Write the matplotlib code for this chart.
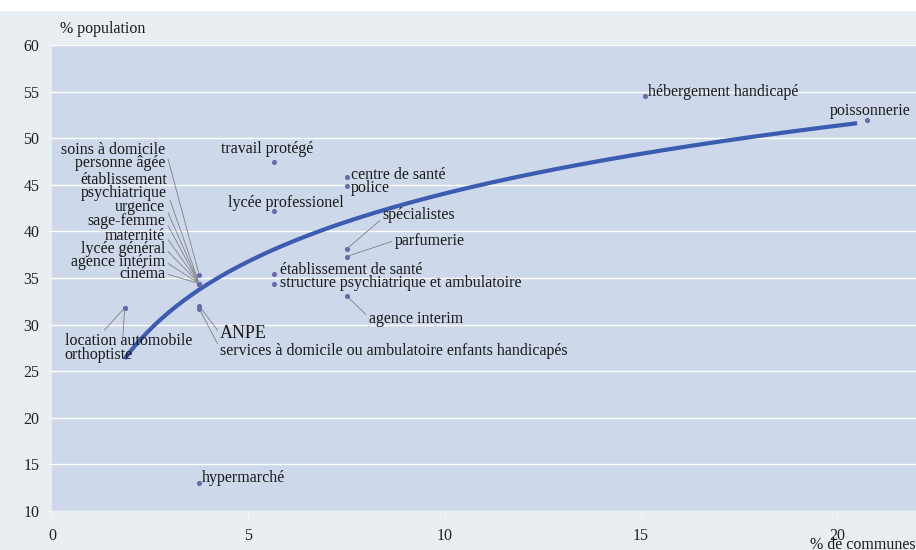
import matplotlib.pyplot as plt
import matplotlib.patches as mpatches
import numpy as np

# values: % of communes (x) vs % of population (y)
labels = [
    "hébergement handicapé", "poissonnerie", "travail protégé",
    "centre de santé", "police", "lycée professionel", "spécialistes",
    "parfumerie", "établissement de santé",
    "structure psychiatrique et ambulatoire", "agence interim",
    "soins à domicile\npersonne âgée", "établissement\npsychiatrique",
    "urgence", "sage-femme", "maternité", "lycée général",
    "agence intérim", "cinéma", "ANPE",
    "services à domicile ou ambulatoire enfants handicapés",
    "location automobile", "orthoptiste", "hypermarché",
]
pct_communes = [15.1, 20.75, 5.65, 7.5, 7.5, 5.65, 7.5, 7.5, 5.65, 5.65,
                7.5, 3.75, 3.75, 3.75, 3.75, 3.75, 3.75, 3.75, 3.75, 3.75,
                3.75, 1.85, 1.85, 3.75]
pct_population = [54.5, 52.0, 47.4, 45.8, 44.9, 42.2, 38.1, 37.3, 35.4,
                  34.4, 33.1, 35.3, 34.4, 34.4, 34.4, 34.4, 34.4, 34.4,
                  34.4, 32.0, 31.7, 31.8, 31.8, 13.0]
x_ticks = [0, 5, 10, 15, 20]
y_ticks = [10, 15, 20, 25, 30, 35, 40, 45, 50, 55, 60]

# label placement: offset from the point in pixels, alignment, leader line
# (None = no leader, otherwise relpos on the text box)
label_style = {
    "hébergement handicapé": ((3, 4), "left", None),
    "poissonnerie": ((3, 9), "center", None),
    "travail protégé": ((-7, 13), "center", None),
    "centre de santé": ((4, 2), "left", None),
    "police": ((4, -2), "left", None),
    "lycée professionel": ((12, 8), "center", None),
    "spécialistes": ((36, 34), "left", (0, 0.3)),
    "parfumerie": ((48, 16), "left", (0, 0.5)),
    "établissement de santé": ((6, 4), "left", None),
    "structure psychiatrique et ambulatoire": ((6, 1), "left", None),
    "agence interim": ((22, -23), "left", (0, 0.6)),
    "soins à domicile\npersonne âgée": ((-34, 119), "right", (1, 0.75)),
    "établissement\npsychiatrique": ((-32, 97), "right", (1, 0.3)),
    "urgence": ((-34, 77), "right", (1, 0.5)),
    "sage-femme": ((-34, 63), "right", (1, 0.5)),
    "maternité": ((-34, 48), "right", (1, 0.5)),
    "lycée général": ((-34, 35), "right", (1, 0.5)),
    "agence intérim": ((-34, 22), "right", (1, 0.5)),
    "cinéma": ((-34, 10), "right", (1, 0.5)),
    "ANPE": ((21, -28), "left", (0, 0.5)),
    "services à domicile ou ambulatoire enfants handicapés":
        ((21, -42), "left", (0, 0.6)),
    "location automobile": ((-60, -33), "left", (0.27, 0.8)),
    "orthoptiste": ((-60, -47), "left", (0.84, 0.6)),
    "hypermarché": ((3, 5), "left", None),
}

serif = ["Liberation Serif", "DejaVu Serif"]
plt.rcParams["font.family"] = serif

fig = plt.figure(figsize=(9.16, 5.5), dpi=100, facecolor="#e9eef2")
# white strip along the top edge
fig.patches.append(mpatches.Rectangle((0, 1 - 10 / 550), 1, 10 / 550,
                                      transform=fig.transFigure,
                                      color="white", zorder=0))
ax = fig.add_axes([52 / 916, 1 - 511 / 550, 1 - 52 / 916, (511 - 45) / 550])
ax.set_facecolor("#cdd8ea")
ax.set_xlim(0, 22)
ax.set_ylim(10, 60)
ax.set_xticks(x_ticks)
ax.set_yticks(y_ticks)
ax.grid(axis="y", color="white", lw=1)
ax.set_axisbelow(True)
for s in ax.spines.values():
    s.set_visible(False)
ax.tick_params(colors="#f4f6f8", length=5, width=0.8, labelsize=11.5,
               labelcolor="#222222")
ax.tick_params(axis="x", pad=7)
ax.tick_params(axis="y", pad=4)

x = np.array(pct_communes)
y = np.array(pct_population)
ax.scatter(x, y, s=7, color="#6a6aa8", zorder=3)

# logarithmic trend line fitted to the points
b, a = np.polyfit(np.log(x), y, 1)
xs = np.linspace(x.min(), 20.5, 200)
ax.plot(xs, a + b * np.log(xs), color="#3b5cb0", lw=3, zorder=2,
        solid_capstyle="butt")

for lab, px, py in zip(labels, pct_communes, pct_population):
    (dx, dy), ha, rel = label_style[lab]
    size = 13 if lab == "ANPE" else 11.5
    kw = {}
    if rel is not None:
        kw["arrowprops"] = dict(arrowstyle="-", color="#808080", lw=0.6,
                                shrinkA=0, shrinkB=2, relpos=rel)
    ax.annotate(lab, (px, py), xytext=(dx, dy), textcoords="offset pixels",
                ha=ha, va="center", fontsize=size, color="#1a1a1a",
                linespacing=0.75, annotation_clip=False, zorder=4, **kw)

fig.text(60 / 916, 1 - 29 / 550, "% population", fontsize=11.5,
         ha="left", va="center", color="#1a1a1a")
fig.text(1.0, 1 - 545 / 550, "% de communes", fontsize=11.5,
         ha="right", va="center", color="#1a1a1a")

fig.savefig("out.png", dpi=100, facecolor=fig.get_facecolor())
